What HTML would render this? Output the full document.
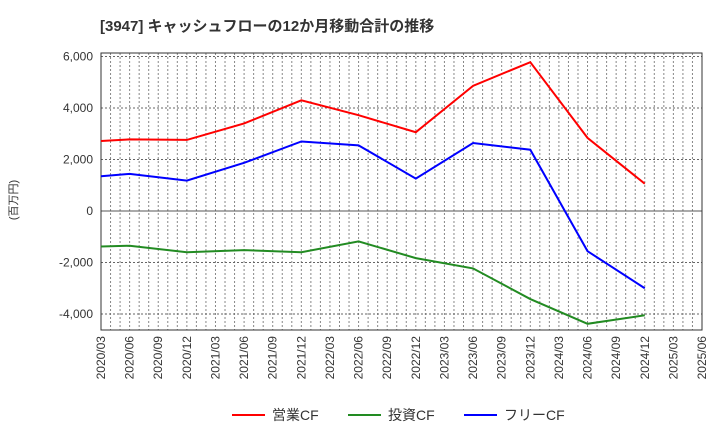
<!DOCTYPE html>
<html><head><meta charset="utf-8"><style>
body{margin:0;background:#fff;font-family:"Liberation Sans","Noto Sans CJK JP",sans-serif}
</style></head><body>
<svg id="c" width="720" height="440" xmlns="http://www.w3.org/2000/svg" font-family="Liberation Sans, Noto Sans CJK JP, sans-serif"></svg>
<script>
const xLabels=["2020/03","2020/06","2020/09","2020/12","2021/03","2021/06","2021/09","2021/12","2022/03","2022/06","2022/09","2022/12","2023/03","2023/06","2023/09","2023/12","2024/03","2024/06","2024/09","2024/12","2025/03","2025/06"];
const yTicks=[6000,4000,2000,0,-2000,-4000];
const pointIdx=[0,1,3,5,7,9,11,13,15,17,19];
const opCF=[2720,2780,2760,3400,4300,3720,3060,4860,5780,2840,1060];
const invCF=[-1380,-1350,-1600,-1520,-1600,-1180,-1830,-2230,-3420,-4380,-4050];
const freeCF=[1350,1440,1180,1870,2700,2550,1260,2640,2380,-1560,-3000];
const svg=document.getElementById('c');const NS='http://www.w3.org/2000/svg';
const L=101,R=702,T=53,B=330;
const x=i=>L+i*(R-L)/(xLabels.length-1);
const y=v=>211-v*51.5/2000;
function mk(t,a,txt){const e=document.createElementNS(NS,t);for(const k in a)e.setAttribute(k,a[k]);if(txt!=null)e.textContent=txt;svg.appendChild(e);return e;}
let e=mk('text',{x:100,y:31,'font-size':15,'font-weight':'bold',fill:'#333'},'[3947]  キャッシュフローの12か月移動合計の推移');

for(let m=1;m<(xLabels.length-1)*3;m++){const gx=x(m/3);let g=mk('line',{x1:gx,x2:gx,y1:T,y2:B,stroke:'#888','stroke-dasharray':'2,2','stroke-width':1});}
xLabels.forEach((l,i)=>{
let t=mk('text',{transform:`translate(${x(i)+4},${B+6}) rotate(-90)`,'text-anchor':'end','font-size':12,fill:'#333'},l);});
yTicks.forEach(v=>{let g=mk('line',{x1:L,x2:R,y1:y(v),y2:y(v),stroke:'#666','stroke-dasharray':'2,2','stroke-width':1});
let t=mk('text',{x:L-8,y:y(v)+4,'text-anchor':'end','font-size':12,fill:'#333'},v.toLocaleString('en-US'));});
e=mk('line',{x1:L,x2:R,y1:y(0),y2:y(0),stroke:'#555','stroke-width':1});
e=mk('rect',{x:L,y:T,width:R-L,height:B-T,fill:'none',stroke:'#333','stroke-width':1});
e=mk('text',{transform:'translate(17,200) rotate(-90)','text-anchor':'middle','font-size':11,fill:'#333'},'(百万円)');
[[opCF,'#f00','operating-cf-line'],[invCF,'#228b22','investing-cf-line'],[freeCF,'#00f','free-cf-line']].forEach(([d,c,n])=>{
let p=mk('polyline',{points:d.map((v,i)=>x(pointIdx[i])+','+y(v)).join(' '),fill:'none',stroke:c,'stroke-width':2});});
[['営業CF','#f00',232],['投資CF','#228b22',348],['フリーCF','#00f',464]].forEach(([l,c,lx])=>{
let g=mk('line',{x1:lx,x2:lx+33,y1:415,y2:415,stroke:c,'stroke-width':2});
let t=mk('text',{x:lx+40,y:420,'font-size':14,fill:'#333'},l);});
</script>
</body></html>
